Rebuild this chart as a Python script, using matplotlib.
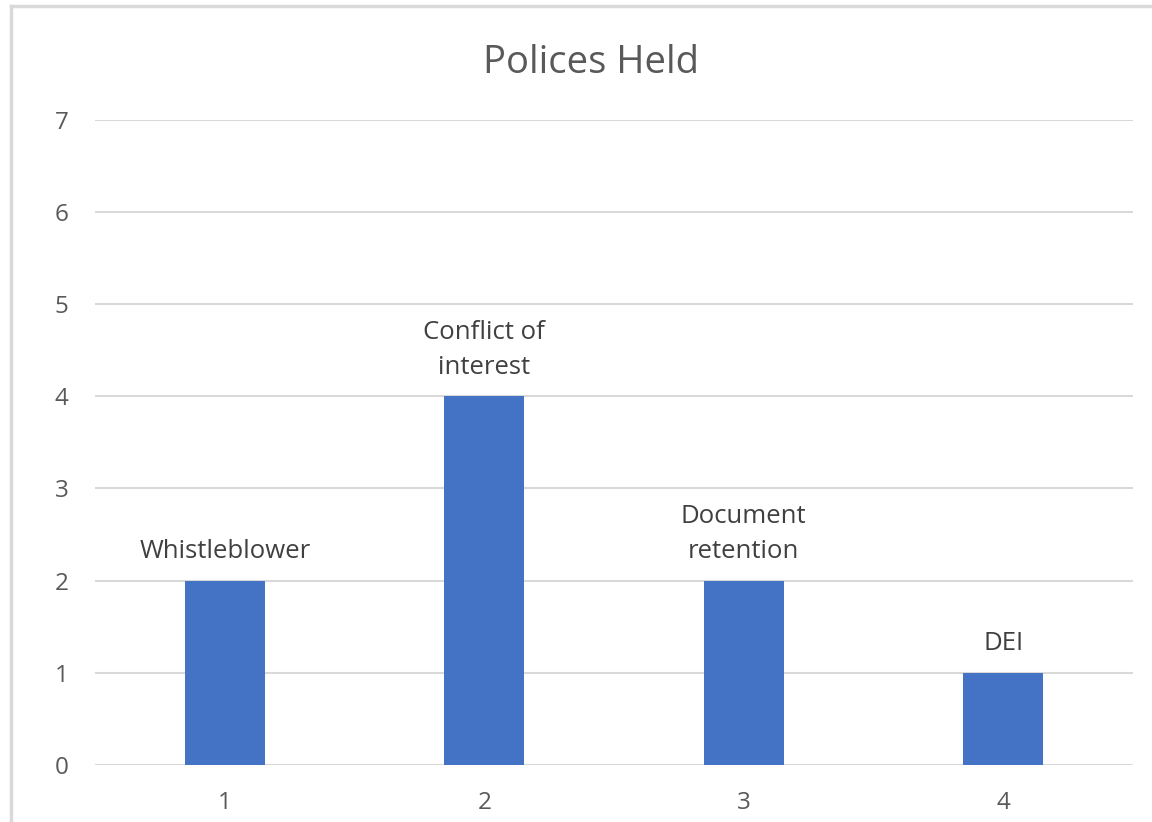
import matplotlib.pyplot as plt
from matplotlib.lines import Line2D

# Policies held, by policy type
positions = [1, 2, 3, 4]
counts = [2, 4, 2, 1]
policy_names = ["Whistleblower", "Conflict of\ninterest", "Document\nretention", "DEI"]
y_ticks = [0, 1, 2, 3, 4, 5, 6, 7]

plt.rcParams['font.family'] = ['Open Sans', 'DejaVu Sans']

fig = plt.figure(figsize=(11.52, 8.22), dpi=100)
ax = fig.add_axes([0.0825, 0.0693, 0.901, 0.785])

ax.bar(positions, counts, width=0.31, color='#4472C4', zorder=3)

# labels sit above each bar, last line's baseline a fixed gap over the bar top
for x, c, name in zip(positions, counts, policy_names):
    ax.annotate(name, xy=(x, c), xytext=(0, 16.2), textcoords='offset points',
                ha='center', va='baseline', fontsize=18.5, color='#404040',
                linespacing=1.54)

ax.set_xlim(0.5, 4.5)
ax.set_ylim(0, 7)
ax.set_xticks(positions)
ax.set_yticks(y_ticks)
ax.tick_params(axis='both', length=0, labelsize=17.5, labelcolor='#595959')
ax.tick_params(axis='x', pad=19)
ax.tick_params(axis='y', pad=19)
ax.grid(axis='y', color='#d9d9d9', linewidth=1.5, zorder=0)
for side in ax.spines.values():
    side.set_visible(False)

fig.text(0.5126, 0.9112, "Polices Held", ha='center', va='baseline',
         fontsize=27.5, color='#595959')

# chart frame (top and left edges)
fig.add_artist(Line2D([0.0095, 1.0], [0.9925, 0.9925], color='#d9d9d9', lw=2.5,
                      transform=fig.transFigure))
fig.add_artist(Line2D([0.0095, 0.0095], [0.0, 0.9925], color='#d9d9d9', lw=2.5,
                      transform=fig.transFigure))

fig.savefig("out.png", dpi=100)
